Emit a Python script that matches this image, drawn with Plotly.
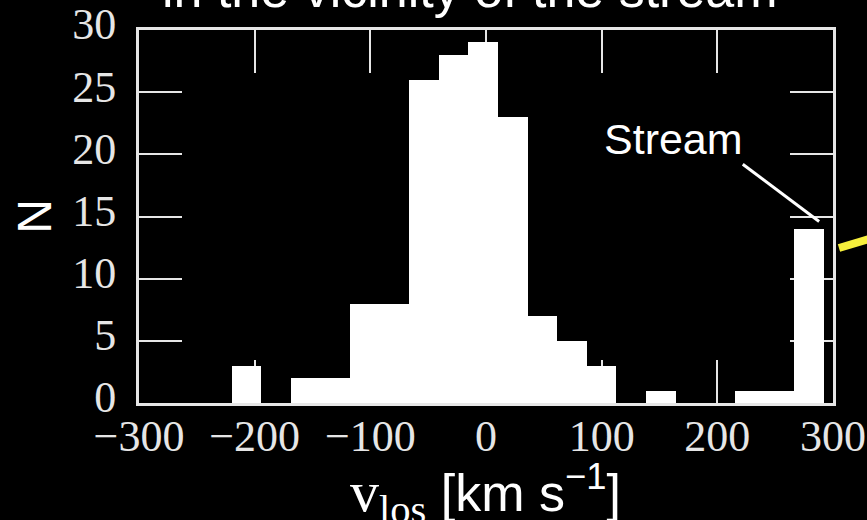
import numpy as np
import plotly.graph_objects as go

# Histogram of line-of-sight velocities (km/s)
bin_start = -220.0
bin_width = 25.6
counts = [3, 0, 2, 2, 8, 8, 26, 28, 29, 23, 7, 5, 3, 0, 1, 0, 0, 1, 1, 14]

x_ticks = [-300, -200, -100, 0, 100, 200, 300]
y_ticks = [0, 5, 10, 15, 20, 25, 30]

edges = bin_start + bin_width * np.arange(len(counts) + 1)
centers = 0.5 * (edges[:-1] + edges[1:])

# "Stream" label and its pointer line (data coordinates)
stream_label = dict(x=0.7695, y=0.708)
pointer = dict(x0=222.0, y0=19.2, x1=288.0, y1=14.6)

fg = "#e6e6e6"
serif = "Liberation Serif"
sans = "Liberation Sans"

fig = go.Figure()
fig.add_trace(go.Bar(
    x=centers, y=counts, width=bin_width,
    marker=dict(color="white", line=dict(width=0)),
    hoverinfo="skip",
))

axis_common = dict(
    showgrid=False, zeroline=False, automargin=False,
    showline=True, linecolor=fg, linewidth=3, mirror="ticks",
    ticks="inside", ticklen=43, tickwidth=2, tickcolor=fg,
    layer="below traces", ticklabeloverflow="allow",
    tickfont=dict(family=serif, size=44, color=fg),
)

fig.update_layout(
    width=867, height=520,
    margin=dict(l=139, r=34, t=30, b=117),
    paper_bgcolor="black", plot_bgcolor="black",
    showlegend=False,
    bargap=0,
    xaxis=dict(range=[-300, 300], tickvals=x_ticks, ticklabelstandoff=-8, **axis_common),
    yaxis=dict(range=[0, 30], tickvals=y_ticks, ticklabelstandoff=11,
               ticklabelshift=-6, **axis_common),
)

fig.add_shape(type="line", xref="x", yref="y",
              x0=pointer["x0"], y0=pointer["y0"], x1=pointer["x1"], y1=pointer["y1"],
              line=dict(color="white", width=3))

# yellow pointer coming in from the neighbouring panel
fig.add_shape(type="line", xref="paper", yref="paper",
              x0=1.0086, y0=0.4155, x1=1.07, y1=0.4495,
              line=dict(color="#f7f03c", width=8))

fig.add_annotation(text="Stream", xref="paper", yref="paper",
                   x=stream_label["x"], y=stream_label["y"],
                   xanchor="center", yanchor="middle",
                   showarrow=False, font=dict(family=sans, size=43, color="white"))

fig.add_annotation(text="in the vicinity of the stream", xref="paper", yref="paper",
                   x=0.477, y=1.026, xanchor="center", yanchor="bottom", showarrow=False,
                   font=dict(family=sans, size=52, color="white"))

fig.add_annotation(text="N", xref="paper", yref="paper",
                   x=-0.151, y=0.5, xanchor="center", yanchor="middle",
                   textangle=-90, showarrow=False,
                   font=dict(family=sans, size=48, color="white"))

fig.add_annotation(
    text=(f"<span style='font-family:{serif};font-size:58px'>v<sub>los</sub></span>"
          " [km s<sup>\u22121</sup>]"),
    xref="paper", yref="paper", x=0.499, y=-0.243, xanchor="center", yanchor="middle",
    showarrow=False, font=dict(family=sans, size=52, color="white"))

fig.write_html("out.html")
